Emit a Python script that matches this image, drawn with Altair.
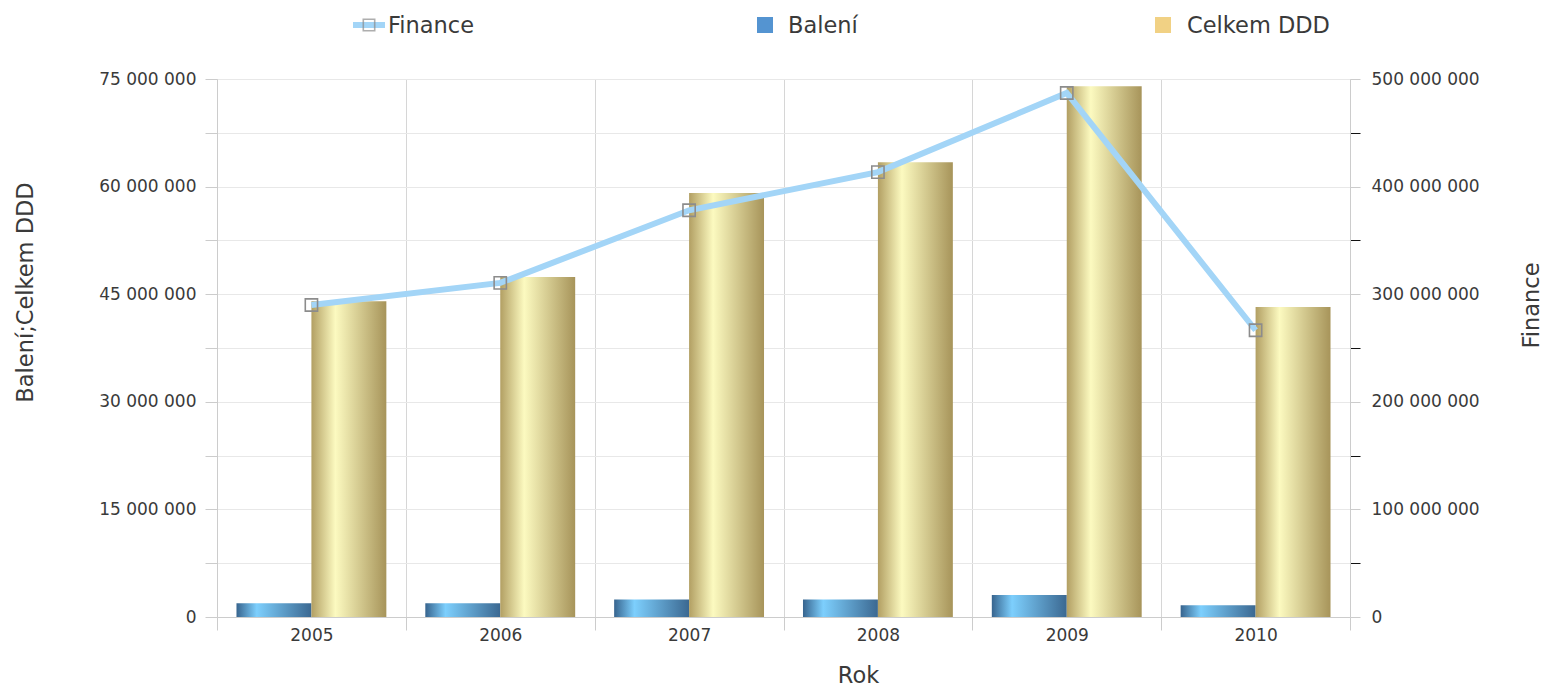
import altair as alt
import pandas as pd

# ---- data ----
years = ["2005", "2006", "2007", "2008", "2009", "2010"]
baleni = [1_900_000, 1_900_000, 2_450_000, 2_450_000, 3_050_000, 1_650_000]
celkem_ddd = [44_000_000, 47_400_000, 59_100_000, 63_400_000, 74_000_000, 43_200_000]
finance = [290_000_000, 310_500_000, 378_000_000, 413_500_000, 487_000_000, 266_500_000]
series_names = ["Balení", "Celkem DDD"]
legend_labels = ["Finance", "Balení", "Celkem DDD"]
axis_titles = {"x": "Rok", "left": "Balení;Celkem DDD", "right": "Finance"}

df = pd.DataFrame({"Rok": years, "Balení": baleni, "Celkem DDD": celkem_ddd, "Finance": finance})
long = df.melt(id_vars=["Rok"], value_vars=series_names, var_name="Série", value_name="Hodnota")

FONT = "DejaVu Sans"
LABEL_COLOR = "#3a3a3a"
AX_COLOR = "#cccccc"
LBL = 17
TTL = 22.5
num = "replace(format(datum.value, ',d'), /,/g, ' ')"

left_axis = alt.Axis(
    title=axis_titles["left"],
    values=[i * 7_500_000 for i in range(11)],
    labelExpr=f"datum.value % 15000000 === 0 ? {num} : ''",
    tickSize=12, labelPadding=9, tickColor=AX_COLOR, domainColor=AX_COLOR,
    gridColor="#e8e8e8", grid=True,
    labelFont=FONT, labelFontSize=LBL, labelColor=LABEL_COLOR,
    titleFont=FONT, titleFontSize=TTL, titleFontWeight="normal", titleColor=LABEL_COLOR,
    titleAngle=270, titleX=-192, titleY=213, titleAlign="center", titleBaseline="middle",
)
right_axis = alt.Axis(
    orient="right",
    title=axis_titles["right"],
    values=[i * 50_000_000 for i in range(11)],
    labelExpr=f"datum.value % 100000000 === 0 ? {num} : ''",
    tickSize=10, labelPadding=11, domainColor=AX_COLOR,
    tickColor={"condition": {"test": "datum.value % 100000000 === 0", "value": AX_COLOR}, "value": "#111111"},
    grid=False,
    labelFont=FONT, labelFontSize=LBL, labelColor=LABEL_COLOR,
    titleFont=FONT, titleFontSize=TTL, titleFontWeight="normal", titleColor=LABEL_COLOR,
    titleAngle=270, titleX=181, titleY=226, titleAlign="center", titleBaseline="middle",
)
x_enc = alt.X(
    "Rok:N",
    scale=alt.Scale(paddingInner=0, paddingOuter=0),
    axis=alt.Axis(
        title=axis_titles["x"], labelAngle=0, tickBand="extent", grid=True,
        gridColor="#d6d6d6", tickColor=AX_COLOR, domainColor=AX_COLOR,
        tickSize=13, labelPadding=-3,
        labelFont=FONT, labelFontSize=LBL, labelColor=LABEL_COLOR,
        titleFont=FONT, titleFontSize=TTL, titleFontWeight="normal", titleColor=LABEL_COLOR,
        titleX=641, titleY=58, titleAlign="center", titleBaseline="middle",
    ),
)
xoff = alt.XOffset("Série:N", scale=alt.Scale(domain=series_names, paddingInner=0, paddingOuter=0.26))
y_left = alt.Y("Hodnota:Q", scale=alt.Scale(domain=[0, 75_000_000], nice=False, zero=True), axis=left_axis)

grad_b = alt.LinearGradient(
    gradient="linear", x1=0, x2=1, y1=0, y2=0,
    stops=[alt.GradientStop(offset=0, color="#37648e"),
           alt.GradientStop(offset=0.27, color="#7dcffd"),
           alt.GradientStop(offset=1, color="#3b6891")],
)
grad_c = alt.LinearGradient(
    gradient="linear", x1=0, x2=1, y1=0, y2=0,
    stops=[alt.GradientStop(offset=0, color="#b29f63"),
           alt.GradientStop(offset=0.32, color="#fcfac0"),
           alt.GradientStop(offset=1, color="#a7945a")],
)

base = alt.Chart(long)
bars_b = base.transform_filter(alt.datum["Série"] == series_names[0]).mark_bar(fill=grad_b).encode(
    x=x_enc, xOffset=xoff, y=y_left)
bars_c = base.transform_filter(alt.datum["Série"] == series_names[1]).mark_bar(fill=grad_c).encode(
    x=x_enc, xOffset=xoff, y=y_left)
bars = alt.layer(bars_b, bars_c)

y_right = alt.Y("Finance:Q", scale=alt.Scale(domain=[0, 500_000_000], nice=False, zero=True), axis=right_axis)
line_base = alt.Chart(df)
fin_line = line_base.mark_line(color="#a3d5f7", strokeWidth=6).encode(x=x_enc, y=y_right)
fin_pts = line_base.mark_point(shape="square", size=150, filled=False, stroke="#8c8c8c",
                               strokeWidth=1.6, opacity=1).encode(x=x_enc, y=y_right)
line_layer = alt.layer(fin_line, fin_pts)

# ---- custom legend at top ----
LY = -54
leg_fin_line = alt.Chart(pd.DataFrame({"l": [legend_labels[0]]})).mark_rule(
    color="#a3d5f7", strokeWidth=6).encode(x=alt.value(136), x2=alt.value(168), y=alt.value(LY))
leg_fin_pt = alt.Chart(pd.DataFrame({"l": [legend_labels[0]]})).mark_point(
    shape="square", size=130, filled=False, stroke="#8c8c8c", strokeWidth=1.6).encode(
    x=alt.value(152), y=alt.value(LY))
leg_b_sq = alt.Chart(pd.DataFrame({"l": [legend_labels[1]]})).mark_square(
    size=256, color="#5494d1", opacity=1).encode(x=alt.value(548), y=alt.value(LY))
leg_c_sq = alt.Chart(pd.DataFrame({"l": [legend_labels[2]]})).mark_square(
    size=256, color="#f1d184", opacity=1).encode(x=alt.value(946), y=alt.value(LY))


def leg_text(label, xpos):
    return alt.Chart(pd.DataFrame({"l": [label]})).mark_text(
        align="left", baseline="middle", font=FONT, fontSize=TTL, color=LABEL_COLOR).encode(
        x=alt.value(xpos), y=alt.value(LY + 1), text="l:N")


chart = alt.layer(
    bars, line_layer,
    leg_fin_line, leg_fin_pt, leg_text(legend_labels[0], 171),
    leg_b_sq, leg_text(legend_labels[1], 571),
    leg_c_sq, leg_text(legend_labels[2], 970),
).resolve_scale(y="independent").properties(
    width=1133, height=538,
    autosize=alt.AutoSizeParams(type="none"),
    padding={"left": 209, "top": 71, "right": 193, "bottom": 69},
).configure_view(stroke=None).configure(background="white")

chart.save("out.html", embed_options={"renderer": "svg", "actions": False})
